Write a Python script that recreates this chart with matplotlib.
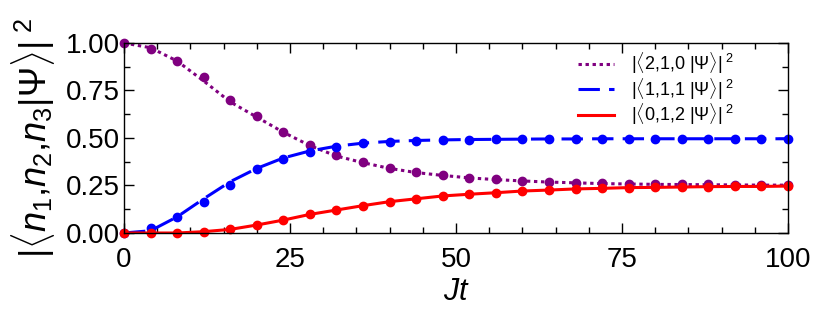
import numpy as np
import matplotlib
matplotlib.use("Agg")
import matplotlib.pyplot as plt
from matplotlib.ticker import MultipleLocator

plt.rcParams['font.family'] = ['Liberation Sans', 'DejaVu Sans']
plt.rcParams['mathtext.fontset'] = 'custom'
plt.rcParams['mathtext.rm'] = 'Liberation Sans'
plt.rcParams['mathtext.it'] = 'Liberation Sans:italic'

# ---- data ----
jt = np.arange(0, 101, 4)

p210_pts = [1.000, 0.968, 0.907, 0.823, 0.700, 0.616, 0.533, 0.463, 0.410,
            0.375, 0.344, 0.319, 0.305, 0.291, 0.283, 0.275, 0.270, 0.265,
            0.261, 0.260, 0.258, 0.256, 0.256, 0.255, 0.255, 0.254]
p111_pts = [0.000, 0.025, 0.083, 0.161, 0.253, 0.335, 0.388, 0.428, 0.454,
            0.472, 0.481, 0.486, 0.489, 0.491, 0.493, 0.494, 0.495, 0.495,
            0.496, 0.496, 0.496, 0.496, 0.496, 0.496, 0.496, 0.496]
p012_pts = [0.000, 0.000, 0.000, 0.007, 0.019, 0.042, 0.068, 0.098, 0.121,
            0.144, 0.165, 0.180, 0.195, 0.204, 0.212, 0.221, 0.226, 0.232,
            0.235, 0.239, 0.240, 0.242, 0.244, 0.245, 0.245, 0.247]

# theory curves (same grid)
p210_line = [1.000, 0.975, 0.905, 0.800, 0.690, 0.610, 0.530, 0.460, 0.405,
             0.370, 0.340, 0.318, 0.303, 0.290, 0.281, 0.274, 0.268, 0.264,
             0.260, 0.258, 0.256, 0.255, 0.254, 0.253, 0.252, 0.252]
p111_line = [0.000, 0.012, 0.085, 0.180, 0.270, 0.340, 0.395, 0.432, 0.457,
             0.473, 0.482, 0.487, 0.490, 0.492, 0.493, 0.494, 0.495, 0.495,
             0.496, 0.496, 0.496, 0.496, 0.496, 0.496, 0.496, 0.496]
p012_line = p012_pts

labels = [r'$|\langle \mathit{2{,}1{,}0}\ |\Psi\rangle|^{\mathit{\ 2}}$',
          r'$|\langle \mathit{1{,}1{,}1}\ |\Psi\rangle|^{\mathit{\ 2}}$',
          r'$|\langle \mathit{0{,}1{,}2}\ |\Psi\rangle|^{\mathit{\ 2}}$']

purple, blue, red = '#800080', '#0000ff', '#ff0000'

fig = plt.figure(figsize=(8.3, 3.12), dpi=100)
ax = fig.add_axes([0.1494, 0.2532, 0.80, 0.609])

ax.plot(jt, p210_line, color=purple, lw=2.2, ls=(0, (1.1, 1.2)), label=labels[0])
ax.plot(jt, p111_line, color=blue, lw=2.2, ls=(0, (7, 3)), label=labels[1])
ax.plot(jt, p012_line, color=red, lw=2.2, ls='-', label=labels[2])
ax.plot(jt, p210_pts, 'o', color=purple, ms=6, clip_on=False)
ax.plot(jt, p111_pts, 'o', color=blue, ms=6, clip_on=False)
ax.plot(jt, p012_pts, 'o', color=red, ms=6, clip_on=False)

ax.set_xlim(0, 100)
ax.set_ylim(0, 1.0)
ax.xaxis.set_major_locator(MultipleLocator(25))
ax.xaxis.set_minor_locator(MultipleLocator(5))
ax.yaxis.set_major_locator(MultipleLocator(0.25))
ax.yaxis.set_minor_locator(MultipleLocator(0.125))
ax.set_yticklabels([f'{v:.2f}' for v in ax.get_yticks()])
ax.tick_params(which='both', direction='in', top=True, right=True,
               labelsize=20)
ax.tick_params(axis='y', pad=3)
ax.tick_params(axis='x', pad=10)
ax.tick_params(which='major', length=7, width=1)
ax.tick_params(which='minor', length=4, width=1)
for s in ax.spines.values():
    s.set_linewidth(1)

ax.set_xlabel(r'$Jt$', fontsize=22, labelpad=3)
ax.set_ylabel(r'$|\langle n_{\mathit{1}}{,}n_{\mathit{2}}{,}n_{\mathit{3}}|\Psi\rangle|^{\ 2}$',
              fontsize=26, labelpad=6)

ax.legend(loc='upper left', bbox_to_anchor=(0.684, 0.96), frameon=False,
          fontsize=13, handlelength=2.0, labelspacing=0.0, handletextpad=0.9,
          borderpad=0, borderaxespad=0)

fig.savefig('out.png', dpi=100)
